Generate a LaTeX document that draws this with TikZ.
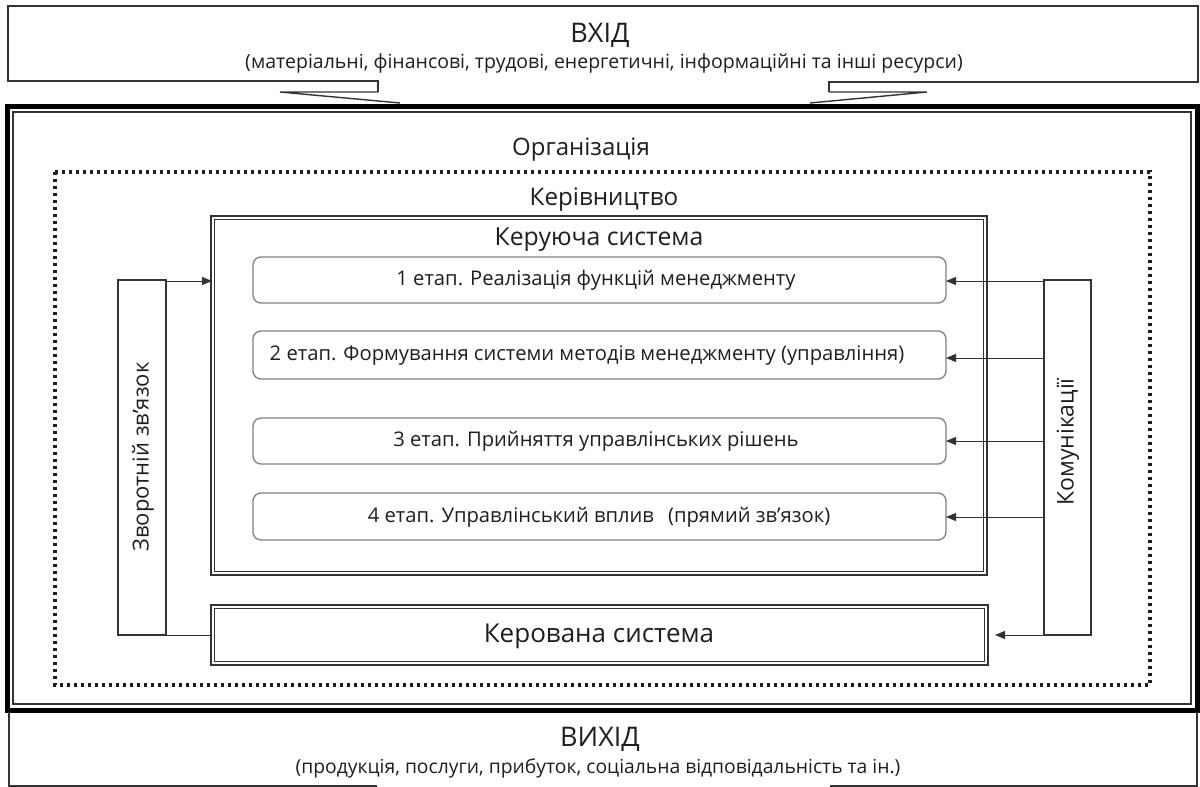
\documentclass[tikz,border=0pt]{standalone}
\usepackage{fontspec}
\setmainfont{Open Sans}
\usetikzlibrary{arrows.meta}
\definecolor{ink}{HTML}{1E1E1E}
\definecolor{edge}{HTML}{333333}
\definecolor{soft}{HTML}{7F7F7F}
\begin{document}
\begin{tikzpicture}[x=1pt,y=-1pt,
  thinline/.style={draw=edge,line width=1.4pt},
  dotline/.style={draw=ink,line width=3.4pt,dash pattern=on 3.4pt off 3.6pt},
  stagebox/.style={draw=soft,line width=1.3pt,rounded corners=8pt},
  txt/.style={text=ink,inner sep=0pt},
  stagetxt/.style={txt,font=\fontsize{20.2}{22}\selectfont},
  arr/.style={draw=edge,line width=0.9pt,-{Triangle[length=10pt,width=8pt]}},
  link/.style={draw=edge,line width=0.9pt}]
\useasboundingbox (0,0) rectangle (1200,787);

% input block with its two pointer edges
\draw[thinline] (378,92) -- (378,81) -- (8,81) -- (8,6) -- (1198,6) -- (1198,82) -- (829,82) -- (829,92);
\draw[thinline] (378,92) -- (280,92) -- (400,103);
\draw[thinline] (829,92) -- (927,92) -- (810,103);
\node[txt,font=\fontsize{27}{29}\selectfont] (inT) at (600,35) {ВХІД};
\node[txt,font=\fontsize{19.5}{21}\selectfont] (inS) at (604,63) {(матеріальні, фінансові, трудові, енергетичні, інформаційні та інші ресурси)};

% organisation frame: heavy outer line, thin inner line
\draw[draw=black,line width=5pt] (7,106) rectangle (1197,710);
\draw[thinline] (13,112) rectangle (1191,704);
\node[txt,font=\fontsize{24}{26}\selectfont] (org) at (581,150) {Організація};

% output block
\draw[thinline] (9,712) -- (9,786) -- (377,786);
\draw[thinline] (830,786) -- (1197,786) -- (1197,712);
\node[txt,font=\fontsize{27}{29}\selectfont] (outT) at (600,739) {ВИХІД};
\node[txt,font=\fontsize{19.3}{21}\selectfont] (outS) at (598,768) {(продукція, послуги, прибуток, соціальна відповідальність та ін.)};

% management (dotted)
\draw[dotline] (55,172) rectangle (1150,685);
\node[txt,font=\fontsize{24.2}{26}\selectfont] (mgmt) at (604,200) {Керівництво};

% controlling system (double line)
\draw[thinline] (211,216) rectangle (987,575);
\draw[thinline] (214.5,219.5) rectangle (983.5,571.5);
\coordinate (ctlW) at (212,281);
\node[txt,font=\fontsize{24.8}{26}\selectfont] (ctl) at (599,240) {Керуюча система};

% stages
\draw[stagebox] (253,257) rectangle (946,303);
\draw[stagebox] (253,331) rectangle (946,379);
\draw[stagebox] (253,418) rectangle (946,464);
\draw[stagebox] (253,493) rectangle (946,540);
\node[stagetxt] (s1) at (596,280) {1 етап. Реалізація функцій менеджменту};
\node[stagetxt] (s2) at (587,356) {2 етап. Формування системи методів менеджменту (управління)};
\node[stagetxt] (s3) at (596,441) {3 етап. Прийняття управлінських рішень};
\node[stagetxt] (s4) at (599,517) {4 етап. Управлінський вплив\hspace{0.7em}(прямий зв’язок)};
\coordinate (s1E) at (946,281);
\coordinate (s2E) at (946,358);
\coordinate (s3E) at (946,441);
\coordinate (s4E) at (946,517);

% controlled system (double line)
\draw[thinline] (211,605) rectangle (988,665);
\draw[thinline] (214.5,608.5) rectangle (984.5,661.5);
\node[txt,font=\fontsize{26}{28}\selectfont] (obj) at (599,636) {Керована система};
\coordinate (objW) at (211,635);
\coordinate (objE) at (995,635);

% feedback column
\draw[thinline] (118,280) rectangle (166,635);
\node[txt,font=\fontsize{22}{24}\selectfont,rotate=90] (fb) at (143,457) {Зворотній зв’язок};
\coordinate (fbNE) at (166,281);
\coordinate (fbSE) at (166,635);

% communications column
\draw[thinline] (1044,280) rectangle (1091,635);
\node[txt,font=\fontsize{23}{25}\selectfont,rotate=90] (com) at (1068,442) {Комунікації};
\coordinate (c1) at (1044,281);
\coordinate (c2) at (1044,358);
\coordinate (c3) at (1044,441);
\coordinate (c4) at (1044,517);
\coordinate (c5) at (1044,635);

% connectors
\draw[arr] (fbNE) -- (ctlW);
\draw[link] (fbSE) -- (objW);
\draw[arr] (c1) -- (s1E);
\draw[arr] (c2) -- (s2E);
\draw[arr] (c3) -- (s3E);
\draw[arr] (c4) -- (s4E);
\draw[arr] (c5) -- (objE);
\end{tikzpicture}
\end{document}
